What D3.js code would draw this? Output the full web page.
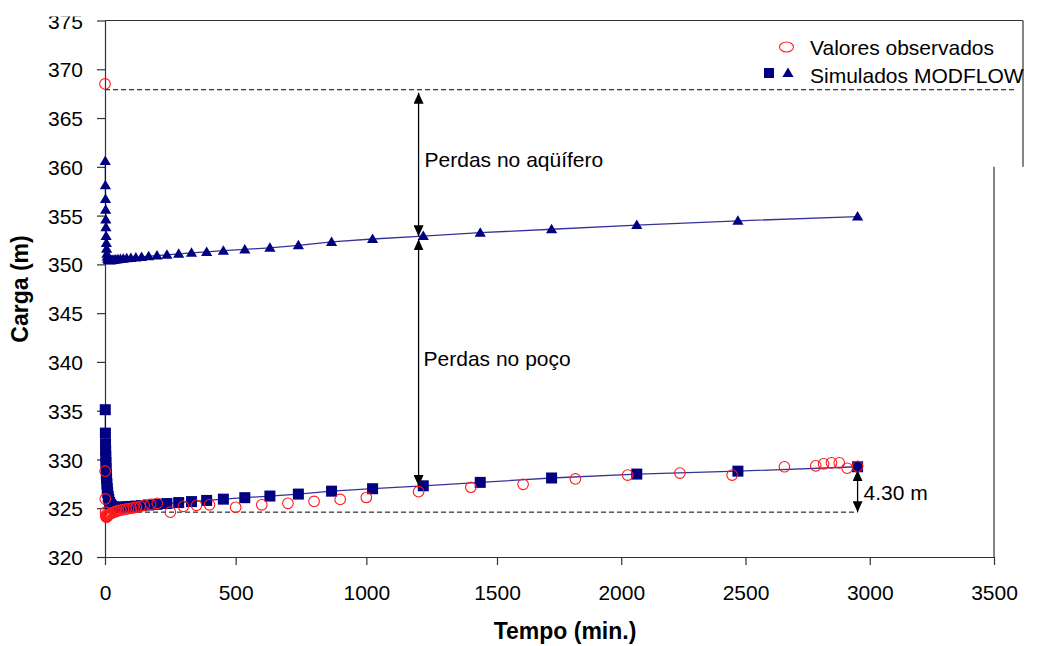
<!DOCTYPE html>
<html>
<head>
<meta charset="utf-8">
<script src="https://cdn.jsdelivr.net/npm/d3@7"></script>
<style>
  body { margin: 0; background: #fff; }
  svg { display: block; }
  text { font-family: "Liberation Sans", Arial, sans-serif; fill: #000; }
</style>
</head>
<body>
<svg id="chart" width="1053" height="646"></svg>
<script>
// Simulated time steps (min) shared by both MODFLOW series
const simTime = [1, 1.5, 2, 2.5, 3, 3.6, 4.3, 5.1, 6.1, 7.3, 8.7, 10.3, 12.3, 14.6, 17.4, 20.7,
  24.6, 29.3, 34.9, 41.5, 49.4, 58.8, 70, 83, 99, 118, 140, 167, 199, 237, 282, 331, 389, 453,
  535, 631, 740, 867, 1024, 1218, 1436, 1709, 2035, 2422, 2880];

// Simulated head in the aquifer (triangles), m
const simAquifer = [360.6, 358.1, 356.7, 355.6, 354.6, 353.8, 352.9, 352.2, 351.6, 351.1, 350.8,
  350.6, 350.5, 350.45, 350.42, 350.42, 350.43, 350.45, 350.47, 350.5, 350.52, 350.55, 350.58,
  350.62, 350.66, 350.7, 350.76, 350.83, 350.9, 350.98, 351.08, 351.18, 351.28, 351.4, 351.53,
  351.7, 351.95, 352.3, 352.6, 352.9, 353.25, 353.6, 354.03, 354.46, 354.9];

// Simulated head in the pumping well (squares), m
const simWell = [335.1, 332.7, 331.6, 330.9, 330.3, 329.7, 329.1, 328.5, 328.0, 327.5, 327.0,
  326.6, 326.2, 325.9, 325.6, 325.4, 325.25, 325.15, 325.1, 325.08, 325.08, 325.1, 325.12,
  325.15, 325.18, 325.22, 325.27, 325.33, 325.4, 325.48, 325.58, 325.68, 325.8, 325.93, 326.08,
  326.25, 326.45, 326.75, 327.0, 327.3, 327.65, 328.1, 328.5, 328.8, 329.25];

// Observed heads in the well
const obsTime = [0, 0.5, 1, 2, 3, 4, 5, 6, 7, 8, 9, 10, 12, 14, 16, 18, 20, 25, 30, 35, 40, 45,
  50, 60, 70, 80, 90, 100, 110, 120, 135, 150, 175, 200, 250, 300, 350, 400, 500, 600, 700, 800,
  900, 1000, 1200, 1400, 1600, 1800, 2000, 2200, 2400, 2600, 2720, 2750, 2780, 2810, 2840, 2880];
const obsHead = [368.5, 328.8, 325.95, 324.6, 324.3, 324.15, 324.1, 324.1, 324.15, 324.2, 324.2,
  324.25, 324.3, 324.35, 324.4, 324.4, 324.45, 324.5, 324.55, 324.6, 324.65, 324.7, 324.75,
  324.8, 324.85, 324.9, 324.95, 325.0, 325.05, 325.1, 325.2, 325.3, 325.4, 325.5, 324.6, 325.2,
  325.3, 325.35, 325.1, 325.35, 325.5, 325.7, 325.9, 326.1, 326.7, 327.15, 327.45, 328.0, 328.4,
  328.6, 328.4, 329.25, 329.35, 329.55, 329.65, 329.65, 329.1, 329.3];

const xTicks = [0, 500, 1000, 1500, 2000, 2500, 3000, 3500];
const yTicks = [320, 325, 330, 335, 340, 345, 350, 355, 360, 365, 370, 375];

// Reference levels and annotations
const staticLevel = 367.9;   // initial level (upper dashed line)
const minLevel = 324.6;      // lowest level (lower dashed line)
const recovery = 4.30;       // rise at the end of the test
const arrowTime = 1200;      // where the loss arrows are drawn
const staticLineEnd = 3490;
const recoveryTime = 2880;

const svg = d3.select("#chart");
const FONT = 21;

const x = d3.scaleLinear().domain([0, 3500]).range([105, 1019.6]);
const xAxisScale = d3.scaleLinear().domain([0, 1500, 3500]).range([105, 497, 994]);
const y = d3.scaleLinear().domain([320, 375]).range([557, 20.5]);

const axisColor = "#333";
const navy = "#000080";

// Frame: top border and right borders
svg.append("line").attr("x1", 105).attr("x2", 1023).attr("y1", y(375)).attr("y2", y(375))
  .attr("stroke", axisColor).attr("stroke-width", 1.2);
svg.append("line").attr("x1", 1023).attr("x2", 1023).attr("y1", y(375)).attr("y2", y(360))
  .attr("stroke", axisColor).attr("stroke-width", 1.2);
svg.append("line").attr("x1", xAxisScale(3500)).attr("x2", xAxisScale(3500)).attr("y1", y(360)).attr("y2", y(320))
  .attr("stroke", axisColor).attr("stroke-width", 1.2);

// Y axis
const gy = svg.append("g").attr("transform", "translate(105,0)")
  .call(d3.axisLeft(y).tickValues(yTicks).tickFormat(d3.format("d"))
    .tickSize(8).tickSizeOuter(0).tickPadding(14));
gy.selectAll("path,line").attr("stroke", axisColor).attr("stroke-width", 1.2);
gy.selectAll("text").attr("font-size", FONT).attr("dy", "0.36em")
  .style("font-family", "'Liberation Sans', Arial, sans-serif").attr("fill", "#000");

// X axis
const gx = svg.append("g").attr("transform", `translate(0,${y(320)})`)
  .call(d3.axisBottom(xAxisScale).tickValues(xTicks).tickFormat(d3.format("d"))
    .tickSize(8).tickSizeOuter(0).tickPadding(20));
gx.selectAll("path,line").attr("stroke", axisColor).attr("stroke-width", 1.2);
gx.selectAll("text").attr("font-size", FONT)
  .style("font-family", "'Liberation Sans', Arial, sans-serif").attr("fill", "#000");

// the chart is trimmed just above the top tick label
svg.append("rect").attr("x", 0).attr("y", 0).attr("width", 100).attr("height", 16.5).attr("fill", "#fff");

// Axis titles
svg.append("text").attr("x", 565).attr("y", 639).attr("text-anchor", "middle")
  .attr("font-size", 23).attr("font-weight", "bold").text("Tempo (min.)");
svg.append("text").attr("transform", "translate(28,289) rotate(-90)").attr("text-anchor", "middle")
  .attr("font-size", 23).attr("font-weight", "bold").text("Carga (m)");

// Dashed reference lines
svg.append("line").attr("x1", x(0)).attr("x2", x(staticLineEnd)).attr("y1", y(staticLevel)).attr("y2", y(staticLevel))
  .attr("stroke", "#000").attr("stroke-width", 1).attr("stroke-dasharray", "5,3");
svg.append("line").attr("x1", x(0)).attr("x2", x(recoveryTime)).attr("y1", y(minLevel)).attr("y2", y(minLevel))
  .attr("stroke", "#000").attr("stroke-width", 1).attr("stroke-dasharray", "5,3");

// Simulated series lines
const simAq = simTime.map((t, i) => ({ t, v: simAquifer[i] }));
const simWe = simTime.map((t, i) => ({ t, v: simWell[i] }));
const line = d3.line().x(d => x(d.t)).y(d => y(d.v));
svg.append("path").datum(simAq).attr("d", line).attr("fill", "none")
  .attr("stroke", navy).attr("stroke-width", 1.3).attr("stroke-opacity", 0.8);
svg.append("path").datum(simWe).attr("d", line).attr("fill", "none")
  .attr("stroke", navy).attr("stroke-width", 1.3).attr("stroke-opacity", 0.8);

// Markers
const triPath = "M0,-5.5L5.6,4L-5.6,4Z";
svg.append("g").selectAll("rect").data(simWe).join("rect")
  .attr("x", d => x(d.t) - 5.5).attr("y", d => y(d.v) - 5.5)
  .attr("width", 11).attr("height", 11).attr("fill", navy);
svg.append("g").selectAll("path").data(simAq).join("path")
  .attr("d", triPath).attr("transform", d => `translate(${x(d.t)},${y(d.v)})`).attr("fill", navy);
const obs = obsTime.map((t, i) => ({ t, v: obsHead[i] }));
svg.append("g").selectAll("circle").data(obs).join("circle")
  .attr("cx", d => x(d.t)).attr("cy", d => y(d.v)).attr("r", 5.3)
  .attr("fill", "none").attr("stroke", "#ff1a1a").attr("stroke-width", 1.1);

// Arrow heads
const defs = svg.append("defs");
defs.append("marker").attr("id", "head").attr("markerUnits", "userSpaceOnUse")
  .attr("viewBox", "0 0 11 10").attr("markerWidth", 11).attr("markerHeight", 10)
  .attr("refX", 11).attr("refY", 5).attr("orient", "auto-start-reverse")
  .append("path").attr("d", "M0,0L11,5L0,10Z").attr("fill", "#000");

function valueAt(series, t) {
  const i = d3.bisector(d => d.t).left(series, t);
  const a = series[i - 1], b = series[i];
  return a.v + (b.v - a.v) * (t - a.t) / (b.t - a.t);
}
const aqAtArrow = valueAt(simAq, arrowTime);
const weAtArrow = valueAt(simWe, arrowTime);

function dblArrow(t, v1, v2, pad1, pad2) {
  svg.append("line").attr("x1", x(t)).attr("x2", x(t))
    .attr("y1", y(v1) + pad1).attr("y2", y(v2) + pad2)
    .attr("stroke", "#000").attr("stroke-width", 1.3)
    .attr("marker-start", "url(#head)").attr("marker-end", "url(#head)");
}
dblArrow(arrowTime, staticLevel, aqAtArrow, 3, 0);
dblArrow(arrowTime, aqAtArrow, weAtArrow, 3, 0);
dblArrow(recoveryTime, minLevel, minLevel + recovery, 0, 0);

// Annotation labels
svg.append("text").attr("x", x(arrowTime) + 6).attr("y", 167).attr("font-size", FONT).text("Perdas no aqüífero");
svg.append("text").attr("x", x(arrowTime) + 5).attr("y", 366).attr("font-size", FONT).text("Perdas no poço");
svg.append("text").attr("x", x(recoveryTime) + 6).attr("y", 500).attr("font-size", FONT)
  .text(recovery.toFixed(2) + " m");

// Legend
const lg = svg.append("g");
lg.append("ellipse").attr("cx", 786.5).attr("cy", 47).attr("rx", 7).attr("ry", 5)
  .attr("fill", "none").attr("stroke", "#ff1a1a").attr("stroke-width", 1.1);
lg.append("text").attr("x", 810).attr("y", 54.5).attr("font-size", FONT).text("Valores observados");
lg.append("rect").attr("x", 764).attr("y", 68).attr("width", 10).attr("height", 10).attr("fill", navy);
lg.append("path").attr("d", triPath).attr("transform", "translate(788,73)").attr("fill", navy);
lg.append("text").attr("x", 810).attr("y", 82.5).attr("font-size", FONT).text("Simulados MODFLOW");
</script>
</body>
</html>
